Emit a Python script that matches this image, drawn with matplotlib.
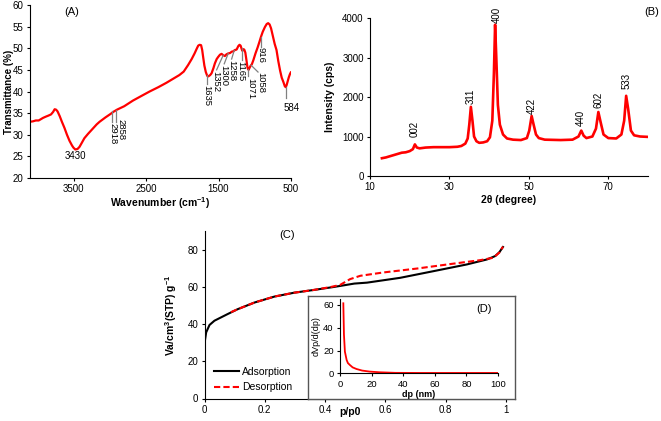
import matplotlib
matplotlib.use("Agg")
import matplotlib.pyplot as plt
import numpy as np

plt.rcParams['font.family'] = ['Liberation Sans', 'DejaVu Sans']
plt.rcParams['mathtext.fontset'] = 'custom'
plt.rcParams['mathtext.rm'] = 'Liberation Sans'
plt.rcParams['mathtext.bf'] = 'Liberation Sans:bold'
plt.rcParams['mathtext.it'] = 'Liberation Sans:italic'

# ---------------- (A) FTIR ----------------
ftir_wn = [4100, 4060, 4020, 3980, 3950, 3920, 3880, 3850, 3810, 3780, 3760, 3740, 3720, 3690,
           3660, 3625, 3590, 3555, 3520, 3500, 3475, 3445, 3417, 3390, 3350, 3300, 3240, 3180,
           3140, 3060, 2990, 2950, 2900, 2850, 2800, 2680, 2560, 2450, 2330, 2220, 2130, 2040,
           1980, 1920, 1870, 1830, 1800, 1780, 1760, 1740, 1725, 1712, 1695, 1675, 1655, 1640,
           1615, 1596, 1570, 1550, 1525, 1504, 1480, 1458, 1435, 1412, 1390, 1366, 1340, 1319,
           1295, 1273, 1250, 1227, 1210, 1195, 1180, 1170, 1160, 1145, 1130, 1115, 1100, 1085,
           1068, 1055, 1040, 1020, 990, 960, 935, 915, 890, 860, 835, 815, 795, 775, 750, 725,
           700, 675, 650, 628, 605, 585, 572, 560, 545, 530, 515, 503]
ftir_t = [33.0, 33.1, 33.3, 33.3, 33.6, 33.9, 34.2, 34.4, 34.7, 35.3, 35.9, 35.8, 35.4, 34.3,
          33.0, 31.6, 30.0, 28.6, 27.5, 27.0, 26.6, 26.7, 27.2, 28.0, 29.2, 30.2, 31.3, 32.4,
          33.0, 34.0, 34.8, 35.3, 35.8, 36.2, 36.6, 37.9, 39.0, 40.0, 41.0, 42.0, 42.9, 43.8,
          44.6, 46.1, 47.5, 48.8, 49.9, 50.6, 50.8, 50.7, 49.6, 48.0, 46.0, 44.5, 43.6, 43.5,
          43.8, 44.2, 45.4, 46.5, 47.5, 48.0, 48.5, 48.7, 48.4, 48.2, 48.6, 48.8, 48.9, 49.2,
          49.3, 49.6, 49.7, 50.5, 50.8, 50.6, 49.8, 49.4, 49.8, 49.7, 49.0, 47.3, 45.5, 45.0,
          45.6, 46.0, 46.3, 47.2, 48.8, 50.2, 51.5, 52.6, 53.8, 54.9, 55.6, 55.8, 55.5, 54.6,
          52.8, 51.0, 49.6, 47.0, 44.8, 43.2, 42.2, 41.2, 41.0, 41.5, 42.4, 43.3, 44.0, 44.4]
ftir_xticks = [3500, 2500, 1500, 500]
ftir_yticks = [20, 25, 30, 35, 40, 45, 50, 55, 60]

# rotated peak labels: label, leader start (wn, T), leader end (wn, T), text x, text top
ftir_labels = ['2918', '2858', '1635', '1352', '1300', '1258', '1165', '1071', '1058', '916']
ftir_lead = [((2965, 35.5), (2965, 33.0), 2962, 32.7),
             ((2910, 35.8), (2910, 32.9), 2846, 33.6),
             ((1656, 43.8), (1656, 41.7), 1656, 41.5),
             ((1435, 48.4), (1526, 45.0), 1538, 44.7),
             ((1366, 48.8), (1421, 46.4), 1432, 46.1),
             ((1283, 49.5), (1319, 47.5), 1319, 47.3),
             ((1181, 50.0), (1181, 47.3), 1195, 47.0),
             ((1098, 45.2), (1098, 43.6), 1056, 43.2),
             ((1052, 46.1), (955, 44.5), 918, 44.4),
             ((918, 52.5), (918, 50.4), 918, 50.2)]

# ---------------- (B) XRD ----------------
xrd_2theta = [13, 14, 15, 16, 17, 18, 19, 20, 20.8, 21.3, 21.8, 22.5, 24, 26, 28, 30, 32, 33,
              34, 34.6, 35.0, 35.4, 35.8, 36.2, 36.8, 37.5, 38.5, 39.5, 40.2, 40.8, 41.2, 41.5,
              41.8, 42.2, 42.7, 43.5, 44.5, 46, 48, 49.5, 50.1, 50.7, 51.2, 51.8, 52.5, 54, 58,
              61, 62.5, 63.2, 63.8, 64.5, 66, 66.9, 67.5, 68.1, 68.8, 70, 72, 73.3, 74, 74.5,
              75, 75.7, 76.5, 78, 80]
xrd_int = [450, 470, 500, 530, 560, 590, 600, 630, 680, 800, 720, 700, 720, 730, 730, 730, 740,
           760, 820, 950, 1300, 1750, 1400, 1000, 880, 840, 850, 880, 980, 1400, 2600, 3830,
           3000, 1800, 1300, 1050, 950, 920, 910, 960, 1150, 1520, 1300, 1050, 960, 920, 910,
           920, 1000, 1150, 1020, 960, 1000, 1200, 1620, 1350, 1050, 960, 950, 1050, 1400,
           2030, 1700, 1150, 1030, 1000, 990]
xrd_labels = ['002', '311', '400', '422', '440', '602', '533']
xrd_label_x = [21.3, 35.3, 41.9, 50.7, 63.1, 67.5, 74.5]
xrd_label_y = [1000, 1820, 3880, 1580, 1270, 1730, 2200]
xrd_xticks = [10, 30, 50, 70]
xrd_yticks = [0, 1000, 2000, 3000, 4000]

# ---------------- (C) isotherm ----------------
ads_p = [0.0, 0.0, 0.0055, 0.0166, 0.033, 0.055, 0.077, 0.11, 0.166, 0.232, 0.298, 0.364,
         0.43, 0.497, 0.539, 0.649, 0.76, 0.87, 0.937, 0.964, 0.978, 0.99]
ads_v = [0.0, 29.6, 35.6, 39.6, 41.9, 43.7, 45.5, 48.1, 51.7, 54.9, 57.0, 58.5, 60.1, 61.9,
         62.4, 65.0, 68.6, 72.2, 74.9, 76.7, 78.8, 81.6]
des_p = [0.088, 0.11, 0.166, 0.232, 0.298, 0.364, 0.42, 0.45, 0.483, 0.517, 0.594, 0.705,
         0.815, 0.914, 0.958, 0.978, 0.99]
des_v = [46.5, 48.1, 51.7, 54.9, 57.0, 58.5, 60.1, 61.2, 64.3, 66.1, 67.9, 70.0, 72.4, 74.5,
         75.8, 78.6, 81.8]
iso_xticks = [0, 0.2, 0.4, 0.6, 0.8, 1]
iso_yticks = [0, 20, 40, 60, 80]

# ---------------- (D) pore size distribution ----------------
psd_dp = [2.1, 2.5, 3.1, 4.2, 5.0, 6.25, 8.0, 10.4, 14.0, 18.75, 25, 35, 50, 70, 100]
psd_dv = [61.5, 34.0, 19.0, 11.7, 9.0, 7.3, 5.2, 3.8, 2.4, 1.5, 0.9, 0.4, 0.3, 0.3, 0.3]
psd_xticks = [0, 20, 40, 60, 80, 100]
psd_yticks = [0, 20, 40, 60]

RED = '#ff0000'
FS = 7
LFS = 7.5
AFS = 6.8
W, H = 661, 421
fig = plt.figure(figsize=(W / 100, H / 100), dpi=100)


def rect(l, r, t, b):
    return [l / W, 1 - b / H, (r - l) / W, (b - t) / H]


def style(ax, fs=FS):
    for s in ['top', 'right']:
        ax.spines[s].set_visible(False)
    for s in ['left', 'bottom']:
        ax.spines[s].set_linewidth(0.8)
        ax.spines[s].set_color('black')
    ax.tick_params(direction='out', length=2.5, width=0.8, labelsize=fs, pad=2)


# ---- A
axA = fig.add_axes(rect(30, 291, 5, 178))
axA.plot(ftir_wn, ftir_t, color=RED, lw=1.6)
axA.set_xlim(4100, 500)
axA.set_ylim(20, 60)
axA.set_xticks(ftir_xticks)
axA.set_yticks(ftir_yticks)
style(axA)
axA.set_xlabel(r'Wavenumber (cm$^{\mathbf{-1}}$)', fontsize=LFS, fontweight='bold', labelpad=1)
axA.set_ylabel('Transmittance (%)', fontsize=7, fontweight='bold')
axA.yaxis.set_label_coords(-21 / 261, 0.5)
axA.yaxis.label.set_va('center')
for lab, (p0, p1, tx, ty) in zip(ftir_labels, ftir_lead):
    axA.plot([p0[0], p1[0]], [p0[1], p1[1]], color='#808080', lw=0.9)
    axA.text(tx, ty, lab, rotation=-90, ha='center', va='top', fontsize=AFS)
axA.plot([572, 572], [41.0, 38.5], color='#808080', lw=0.9)
axA.text(489, 37.4, '584', ha='center', va='top', fontsize=FS)
axA.text(3472, 26.3, '3430', ha='center', va='top', fontsize=FS)

# ---- B
axB = fig.add_axes(rect(370, 648, 18, 176))
axB.plot(xrd_2theta, xrd_int, color=RED, lw=1.9)
axB.set_xlim(10, 80)
axB.set_ylim(0, 4000)
axB.set_xticks(xrd_xticks)
axB.set_yticks(xrd_yticks)
style(axB)
axB.set_xlabel('2θ (degree)', fontsize=LFS, fontweight='bold', labelpad=2)
axB.set_ylabel('Intensity (cps)', fontsize=LFS, fontweight='bold')
axB.yaxis.set_label_coords(-35 / 278, 0.5)
for lab, x, y in zip(xrd_labels, xrd_label_x, xrd_label_y):
    axB.text(x, y, lab, rotation=90, ha='center', va='bottom', fontsize=FS)

# ---- C
axC = fig.add_axes(rect(204.5, 506, 231.4, 398.5))
axC.plot(ads_p, ads_v, color='black', lw=1.5, label='Adsorption')
axC.plot(des_p, des_v, color=RED, lw=1.5, ls=(0, (3, 1.5)), label='Desorption')
axC.set_xlim(0, 1)
axC.set_ylim(0, 90)
axC.set_xticks(iso_xticks)
axC.set_xticklabels(['0', '0.2', '0.4', '0.6', '0.8', '1'])
axC.set_yticks(iso_yticks)
style(axC)
axC.set_xlabel('p/p0', fontsize=LFS, fontweight='bold')
axC.xaxis.set_label_coords((350 - 204.5) / 301.5, -13.5 / 167.1)
axC.xaxis.label.set_va('center')
axC.set_ylabel(r'Va/cm$^{\mathbf{3}}$(STP) g$^{\mathbf{-1}}$', fontsize=LFS, fontweight='bold')
axC.yaxis.set_label_coords(-26 / 301.5, 0.5)
axC.legend(loc='upper left', bbox_to_anchor=(214 / W, 1 - 367 / H),
           bbox_transform=fig.transFigure, frameon=False, fontsize=LFS,
           handlelength=2.4, handletextpad=0.3, labelspacing=0.5, borderpad=0, borderaxespad=0)

# inset frame
frame = fig.add_axes(rect(308, 515, 295.5, 399))
frame.set_xticks([])
frame.set_yticks([])
frame.set_facecolor('white')
for s in frame.spines.values():
    s.set_color('#555555')
    s.set_linewidth(1.0)

# ---- D
axD = fig.add_axes(rect(340, 498, 299.3, 373.3))
axD.plot(psd_dp, psd_dv, color=RED, lw=1.3)
axD.set_xlim(0, 100)
axD.set_ylim(0, 65)
axD.set_xticks(psd_xticks)
axD.set_yticks(psd_yticks)
style(axD, fs=6.8)
axD.set_xlabel('dp (nm)', fontsize=6.5, fontweight='bold', labelpad=1)
axD.set_ylabel('dVp/d(dp)', fontsize=6.5, labelpad=2)

# panel letters
fig.text(72 / W, 1 - 12 / H, '(A)', ha='center', va='center', fontsize=8)
fig.text(652 / W, 1 - 12 / H, '(B)', ha='center', va='center', fontsize=8)
fig.text(287 / W, 1 - 235 / H, '(C)', ha='center', va='center', fontsize=8)
fig.text(484 / W, 1 - 309 / H, '(D)', ha='center', va='center', fontsize=8)

fig.savefig('out.png', dpi=100)
